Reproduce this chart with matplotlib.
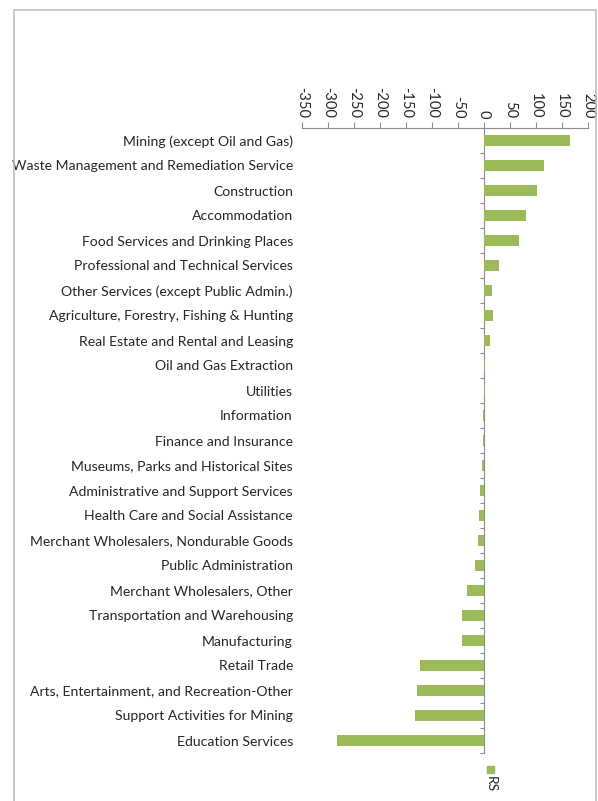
import matplotlib
matplotlib.use("Agg")
import matplotlib.pyplot as plt
from matplotlib.patches import Rectangle

# industries, top to bottom as in the chart
industries = [
    "Mining (except Oil and Gas)",
    "Waste Management and Remediation Service",
    "Construction",
    "Accommodation",
    "Food Services and Drinking Places",
    "Professional and Technical Services",
    "Other Services (except Public Admin.)",
    "Agriculture, Forestry, Fishing & Hunting",
    "Real Estate and Rental and Leasing",
    "Oil and Gas Extraction",
    "Utilities",
    "Information",
    "Finance and Insurance",
    "Museums, Parks and Historical Sites",
    "Administrative and Support Services",
    "Health Care and Social Assistance",
    "Merchant Wholesalers, Nondurable Goods",
    "Public Administration",
    "Merchant Wholesalers, Other",
    "Transportation and Warehousing",
    "Manufacturing",
    "Retail Trade",
    "Arts, Entertainment, and Recreation-Other",
    "Support Activities for Mining",
    "Education Services",
]
rs = [165, 115, 101, 81, 67, 29, 16, 18, 11, 2, 1, -1, -1, -3, -7, -10,
      -11, -18, -33, -42, -42, -124, -129, -132, -283]
xticks = list(range(-350, 201, 50))

green = "#9BBB59"
txt = "#262626"
axcol = "#8C8C8C"

plt.rcParams["font.family"] = ["Lato", "DejaVu Sans"]

fig = plt.figure(figsize=(5.98, 8.01), dpi=100)
ax = fig.add_axes([302 / 598, 1 - 753 / 801, (588 - 302) / 598, (753 - 128) / 801])

ypos = list(range(len(industries)))
ax.barh(ypos, rs, height=0.45, color=green)
ax.set_ylim(len(industries) - 0.5, -0.5)
ax.set_xlim(-350, 200)

# x axis on top, rotated labels
ax.xaxis.tick_top()
ax.set_xticks(xticks)
ax.set_xticklabels([str(v) for v in xticks], rotation=270, color=txt, fontsize=10.5)
ax.tick_params(axis="x", direction="out", length=4, color=axcol, pad=3)

for s in ["left", "right", "bottom"]:
    ax.spines[s].set_visible(False)
ax.spines["top"].set_color(axcol)

# category labels at left, no marks
ax.set_yticks(ypos)
ax.set_yticklabels(industries, color=txt, fontsize=10.1)
ax.tick_params(axis="y", length=0, pad=6.5)

# vertical axis line at zero with tick marks between categories
sec = ax.secondary_yaxis(0, transform=ax.transData)
sec.spines["left"].set_color(axcol)
sec.set_yticks([i + 0.5 for i in range(-1, len(industries))])
sec.set_yticklabels([])
sec.tick_params(axis="y", direction="out", length=3, color=axcol)

# legend below the axis
fig.add_artist(Rectangle((487 / 598, 1 - 773 / 801), 7 / 598, 7 / 801,
                         transform=fig.transFigure, color=green))
fig.text(491 / 598, 1 - 776 / 801, "RS", rotation=270, ha="center", va="top",
         color=txt, fontsize=10)

# chart border
fig.add_artist(Rectangle((14 / 598, -0.05), (596 - 14) / 598, 1.05 - 10 / 801,
                         transform=fig.transFigure, fill=False,
                         edgecolor="#BFBFBF", linewidth=1.2))

fig.savefig("out.png", dpi=100, facecolor="white")
